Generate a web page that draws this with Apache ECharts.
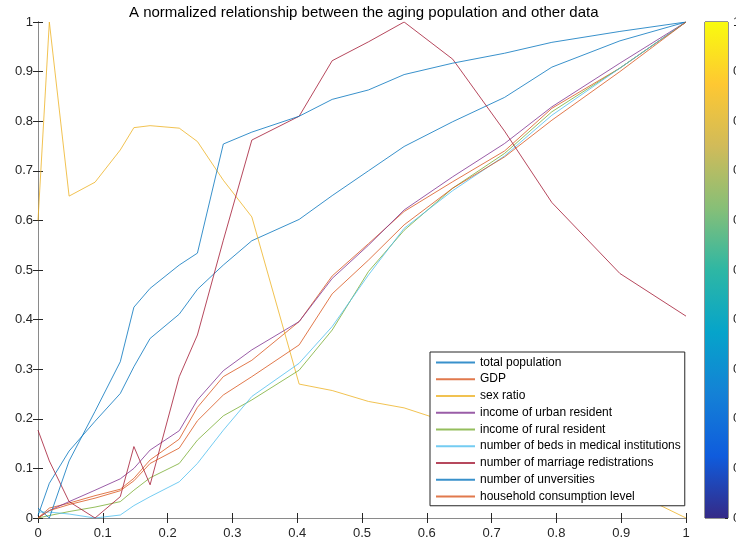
<!DOCTYPE html>
<html>
<head>
<meta charset="utf-8">
<script src="https://cdn.jsdelivr.net/npm/echarts@6/dist/echarts.min.js"></script>
<style>
  html, body { margin: 0; padding: 0; background: #fff; }
  #main { width: 736px; height: 543px; }
</style>
</head>
<body>
<div id="main"></div>
<script>
// normalized aging population (shared x)
var agingX = [0, 0.0175, 0.048, 0.088, 0.127, 0.148, 0.173, 0.218, 0.246, 0.286, 0.33, 0.403, 0.454, 0.51, 0.565, 0.64, 0.72, 0.793, 0.898, 1]

var totalPopulation = [0.005, 0.07, 0.135, 0.195, 0.251, 0.305, 0.362, 0.411, 0.461, 0.51, 0.559, 0.602, 0.65, 0.70, 0.749, 0.799, 0.848, 0.909, 0.962, 1]
var gdp = [0, 0.02, 0.03, 0.045, 0.058, 0.08, 0.117, 0.159, 0.223, 0.285, 0.318, 0.396, 0.488, 0.553, 0.618, 0.678, 0.74, 0.826, 0.907, 1]
var sexRatio = [0.60, 1.0, 0.649, 0.677, 0.742, 0.787, 0.791, 0.786, 0.759, 0.681, 0.607, 0.27, 0.257, 0.235, 0.222, 0.19, 0.155, 0.12, 0.065, 0]
var urbanIncome = [0, 0.015, 0.033, 0.056, 0.079, 0.1, 0.137, 0.176, 0.238, 0.297, 0.339, 0.396, 0.483, 0.55, 0.621, 0.688, 0.755, 0.829, 0.917, 1]
var ruralIncome = [0, 0.005, 0.013, 0.022, 0.033, 0.056, 0.081, 0.11, 0.157, 0.206, 0.238, 0.298, 0.379, 0.497, 0.58, 0.665, 0.735, 0.819, 0.907, 1]
var medicalBeds = [0.012, 0.012, 0.008, 0.0, 0.006, 0.025, 0.043, 0.073, 0.11, 0.177, 0.245, 0.312, 0.386, 0.49, 0.584, 0.66, 0.73, 0.812, 0.907, 1]
var marriageRegs = [0.177, 0.115, 0.033, 0.0, 0.043, 0.144, 0.067, 0.285, 0.369, 0.56, 0.762, 0.81, 0.922, 0.96, 1.0, 0.925, 0.78, 0.636, 0.493, 0.407]
var universities = [0.02, 0.0, 0.115, 0.215, 0.315, 0.425, 0.463, 0.51, 0.534, 0.754, 0.778, 0.81, 0.844, 0.863, 0.894, 0.917, 0.937, 0.959, 0.981, 1]
var householdCons = [0, 0.015, 0.027, 0.04, 0.055, 0.075, 0.11, 0.141, 0.196, 0.248, 0.285, 0.349, 0.452, 0.52, 0.591, 0.665, 0.728, 0.802, 0.9, 1]

var seriesNames = ['total population', 'GDP', 'sex ratio', 'income of urban resident', 'income of rural resident',
  'number of beds in medical institutions', 'number of marriage redistrations', 'number of unversities', 'household consumption level']
var seriesValues = [totalPopulation, gdp, sexRatio, urbanIncome, ruralIncome, medicalBeds, marriageRegs, universities, householdCons]
var lineColors = ['#0072BD', '#D95319', '#EDB120', '#7E2F8E', '#77AC30', '#4DBEEE', '#A2142F', '#0072BD', '#D95319']

// parula colormap stops for the colorbar
var parulaStops = ['#352A87', '#0F5CDD', '#1481D6', '#06A4CA', '#2EB7A4', '#87BF77', '#D1BB59', '#FEC832', '#F9FB0E']

var fontFam = '"Liberation Sans", Arial, Helvetica, sans-serif'
var axisColor = '#262626'

var chart = echarts.init(document.getElementById('main'))

var series = seriesValues.map(function(vals, i) {
  return {
    name: seriesNames[i],
    type: 'line',
    xAxisIndex: 0,
    yAxisIndex: 0,
    symbol: 'none',
    showSymbol: false,
    lineStyle: { width: 1, color: lineColors[i], opacity: 0.78 },
    itemStyle: { color: lineColors[i] },
    data: agingX.map(function(x, j) { return [x, vals[j]] })
  }
})

// colorbar: one full-height bar filled with the parula gradient
series.push({
  type: 'bar',
  xAxisIndex: 2,
  yAxisIndex: 2,
  barWidth: '100%',
  data: [1],
  silent: true,
  itemStyle: {
    color: {
      type: 'linear', x: 0, y: 1, x2: 0, y2: 0,
      colorStops: parulaStops.map(function(c, i) {
        return { offset: i / (parulaStops.length - 1), color: c }
      })
    }
  }
})

var valueAxisBase = {
  type: 'value',
  min: 0,
  max: 1,
  interval: 0.1,
  splitLine: { show: false }
}

chart.setOption({
  animation: false,
  backgroundColor: '#fff',
  title: {
    text: 'A normalized relationship between the aging population and other data',
    left: 124,
    top: 0,
    textStyle: { fontFamily: fontFam, fontSize: 15, fontWeight: 'normal', color: '#000' }
  },
  legend: {
    orient: 'vertical',
    left: 430,
    top: 352,
    padding: [2, 4, 1, 5],
    itemWidth: 39,
    itemHeight: 14,
    itemGap: 0,
    backgroundColor: '#fff',
    borderColor: axisColor,
    borderWidth: 1,
    borderRadius: 0,
    itemStyle: { opacity: 0 },
    data: seriesNames,
    textStyle: { fontFamily: fontFam, fontSize: 12, lineHeight: 16.75, color: '#000' }
  },
  grid: [
    { left: 38, top: 22, width: 648, height: 496, outerBoundsMode: 'none' },
    { left: 705, top: 22, width: 23, height: 496, outerBoundsMode: 'none', show: true, borderColor: axisColor, borderWidth: 1 }
  ],
  xAxis: [
    Object.assign({}, valueAxisBase, {
      gridIndex: 0,
      position: 'bottom',
      axisLine: { show: true, lineStyle: { color: axisColor, width: 1 } },
      axisTick: { show: true, inside: true, length: 5, lineStyle: { color: axisColor } },
      axisLabel: { margin: 9, fontFamily: fontFam, fontSize: 13, color: axisColor }
    }),
    Object.assign({}, valueAxisBase, {
      gridIndex: 0,
      position: 'top',
      axisLine: { show: true, lineStyle: { color: '#8a8a8a', width: 1 } },
      axisTick: { show: true, inside: true, length: 5, lineStyle: { color: axisColor } },
      axisLabel: { show: false }
    }),
    {
      type: 'category',
      gridIndex: 1,
      data: [''],
      show: false
    }
  ],
  yAxis: [
    Object.assign({}, valueAxisBase, {
      gridIndex: 0,
      position: 'left',
      axisLine: { show: true, lineStyle: { color: axisColor, width: 1 } },
      axisTick: { show: true, inside: true, length: 5, lineStyle: { color: axisColor } },
      axisLabel: { margin: 5, fontFamily: fontFam, fontSize: 13, color: axisColor }
    }),
    Object.assign({}, valueAxisBase, {
      gridIndex: 0,
      position: 'right',
      axisLine: { show: true, lineStyle: { color: '#8a8a8a', width: 1 } },
      axisTick: { show: true, inside: true, length: 5, lineStyle: { color: axisColor } },
      axisLabel: { show: false }
    }),
    Object.assign({}, valueAxisBase, {
      gridIndex: 1,
      position: 'right',
      axisLine: { show: false },
      axisTick: { show: true, inside: true, length: 3, lineStyle: { color: axisColor } },
      axisLabel: { margin: 5, fontFamily: fontFam, fontSize: 13, color: axisColor }
    })
  ],
  series: series
})
</script>
</body>
</html>
